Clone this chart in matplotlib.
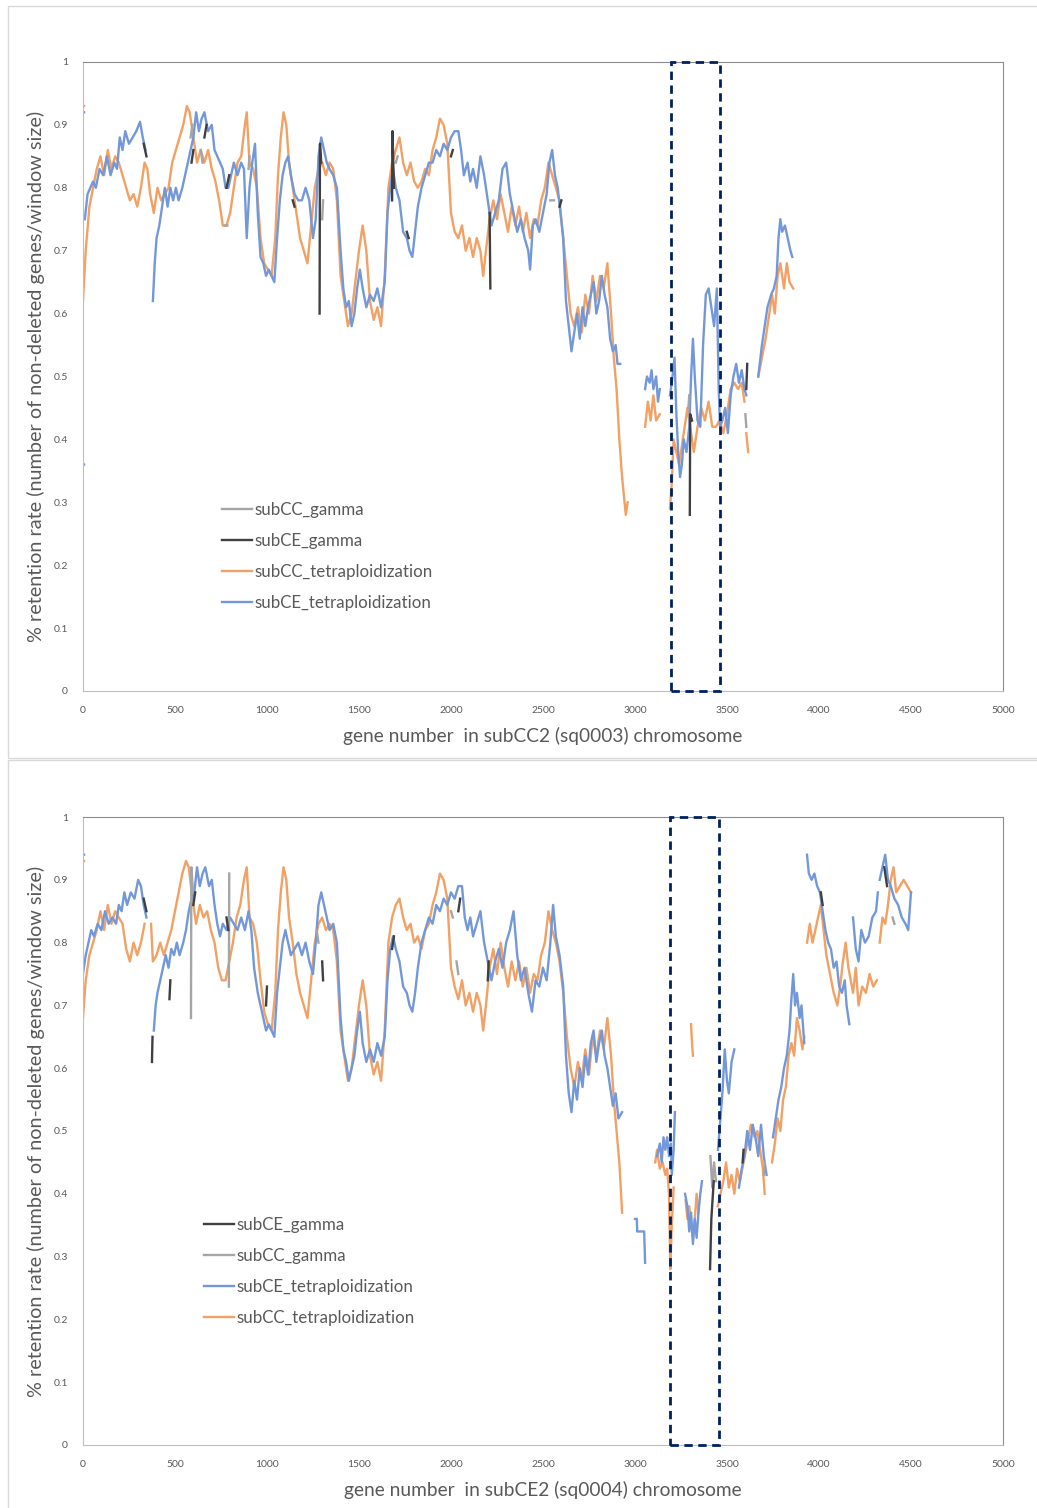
import numpy as np
import matplotlib
matplotlib.use("Agg")
import matplotlib.pyplot as plt
from matplotlib.patches import Rectangle

plt.rcParams['font.family'] = ['Lato', 'DejaVu Sans']

# ---- data: (gene number, retention rate), None = gap ----
# top panel: subCC2 (sq0003)
top_cc_tet = [(0, 0.93), (6, 0.93), None,
    (0, .62), (15, .70), (35, .77), (55, .80), (75, .83), (95, .85), (115, .82), (135, .86), (155, .83),
    (175, .85), (195, .84), (215, .82), (235, .80), (255, .78), (275, .79), (295, .77), (315, .80),
    (335, .84), (350, .83), (365, .79), (385, .76), (405, .80), (425, .78), (445, .79), (465, .80),
    (485, .84), (505, .86), (525, .88), (545, .90), (565, .93), (580, .92), (600, .88), (620, .84),
    (640, .86), (660, .84), (680, .86), (700, .83), (720, .81), (740, .78), (760, .74), (780, .74),
    (800, .76), (820, .80), (840, .84), (860, .85), (880, .90), (890, .92), (905, .84), (925, .83),
    (945, .80), (965, .72), (985, .68), (1005, .67), (1025, .66), (1045, .72), (1060, .82), (1075, .88),
    (1090, .92), (1105, .90), (1120, .84), (1140, .80), (1160, .76), (1180, .72), (1200, .70), (1220, .68),
    (1240, .74), (1260, .80), (1280, .83), (1300, .84), (1320, .82), (1340, .84), (1360, .83), (1380, .78),
    (1400, .66), (1420, .62), (1440, .58), (1460, .60), (1480, .65), (1500, .70), (1520, .74), (1540, .70),
    (1560, .62), (1580, .59), (1600, .61), (1620, .58), (1640, .66), (1660, .80), (1680, .84), (1700, .86),
    (1720, .88), (1740, .84), (1760, .82), (1780, .84), (1800, .81), (1820, .80), (1840, .81), (1860, .83),
    (1880, .82), (1900, .86), (1920, .88), (1940, .91), (1960, .90), (1980, .87), (2000, .76), (2020, .73),
    (2040, .72), (2060, .74), (2080, .70), (2100, .72), (2120, .69), (2140, .72), (2160, .70), (2175, .66),
    (2190, .70), (2210, .75), (2230, .78), (2250, .75), (2270, .79), (2290, .76), (2310, .73), (2330, .77),
    (2350, .74), (2370, .77), (2390, .73), (2410, .76), (2430, .72), (2450, .75), (2470, .74), (2490, .78),
    (2510, .80), (2530, .84), (2550, .82), (2570, .80), (2590, .78), (2610, .72), (2630, .66), (2650, .60),
    (2670, .58), (2690, .61), (2710, .57), (2730, .63), (2750, .60), (2770, .66), (2790, .62), (2810, .66),
    (2830, .64), (2850, .68), (2870, .60), (2885, .53), (2900, .48), (2915, .40), (2930, .34), (2940, .31),
    (2950, .28), (2960, .30), None,
    (3055, .42), (3070, .46), (3085, .43), (3100, .47), (3115, .43), (3135, .44), None,
    (3190, .29), (3200, .33), (3210, .40), (3225, .38), (3240, .36), (3255, .39), (3270, .42), (3285, .45),
    (3300, .42), (3320, .38), (3340, .42), (3360, .45), (3380, .43), (3400, .46), (3420, .42), (3440, .42),
    (3460, .43), (3480, .41), (3500, .44), (3520, .48), (3540, .49), (3560, .48), (3580, .49), (3595, .46),
    None, (3605, .41), (3615, .38), None,
    (3670, .50), (3690, .53), (3710, .56), (3730, .60), (3745, .63), (3760, .60), (3775, .66), (3790, .68),
    (3810, .64), (3825, .68), (3840, .65), (3860, .64)]

top_ce_tet = [(0, .92), (6, .92), None, (0, .36), (6, .36), None,
    (10, .75), (25, .79), (40, .80), (55, .81), (70, .80), (90, .83), (110, .82), (130, .85), (150, .82),
    (170, .84), (185, .83), (200, .88), (215, .86), (230, .89), (250, .87), (270, .88), (290, .89),
    (310, .905), (325, .88), (340, .86), None,
    (380, .62), (390, .68), (400, .72), (415, .74), (430, .77), (445, .80), (460, .77), (475, .80),
    (490, .78), (505, .80), (520, .78), (540, .80), (555, .82), (570, .84), (585, .86), (600, .88),
    (615, .92), (630, .89), (645, .91), (660, .92), (680, .89), (700, .90), (715, .86), (730, .85),
    (745, .84), (760, .83), (775, .80), (790, .80), (805, .82), (820, .84), (840, .82), (860, .84),
    (875, .83), (890, .72), (905, .80), (920, .84), (935, .87), (950, .76), (965, .69), (980, .68),
    (995, .66), (1010, .67), (1025, .66), (1040, .65), (1055, .72), (1070, .78), (1085, .82), (1100, .84),
    (1115, .85), (1130, .82), (1150, .79), (1170, .78), (1190, .78), (1210, .80), (1230, .78), (1250, .72),
    (1265, .75), (1280, .85), (1295, .88), (1310, .86), (1325, .84), (1340, .83), (1360, .82), (1380, .80),
    (1400, .70), (1415, .64), (1430, .61), (1445, .62), (1460, .58), (1475, .60), (1490, .64), (1505, .67),
    (1520, .64), (1540, .61), (1560, .63), (1580, .62), (1600, .64), (1620, .61), (1640, .65), (1655, .76),
    (1670, .80), (1685, .83), (1700, .80), (1720, .78), (1740, .73), (1760, .72), (1775, .70), (1790, .69),
    (1805, .73), (1820, .77), (1840, .80), (1860, .82), (1880, .84), (1900, .84), (1920, .86), (1940, .85),
    (1960, .87), (1980, .86), (2000, .88), (2020, .89), (2040, .89), (2055, .86), (2070, .82), (2090, .84),
    (2105, .81), (2120, .83), (2140, .80), (2160, .85), (2180, .82), (2200, .78), (2220, .74), (2240, .76),
    (2260, .78), (2280, .83), (2300, .84), (2320, .79), (2340, .76), (2360, .73), (2380, .75), (2400, .72),
    (2420, .70), (2430, .67), (2445, .74), (2460, .75), (2480, .73), (2500, .76), (2520, .79), (2535, .84),
    (2550, .86), (2565, .82), (2580, .80), (2595, .76), (2610, .72), (2625, .62), (2640, .58), (2655, .54),
    (2670, .57), (2685, .60), (2700, .56), (2715, .61), (2730, .58), (2745, .61), (2760, .63), (2775, .65),
    (2790, .60), (2805, .62), (2820, .66), (2835, .63), (2850, .61), (2865, .56), (2880, .54), (2895, .55),
    (2905, .52), (2920, .52), None,
    (3055, .48), (3065, .50), (3080, .49), (3090, .51), (3100, .48), (3115, .50), (3125, .46), (3135, .48), None,
    (3190, .47), (3200, .49), (3215, .53), (3225, .44), (3235, .38), (3245, .34), (3255, .36), (3265, .40),
    (3280, .38), (3295, .42), (3305, .50), (3315, .56), (3325, .50), (3340, .43), (3355, .42), (3370, .55),
    (3385, .63), (3400, .64), (3415, .61), (3430, .58), (3445, .64), (3455, .48), (3462, .42), (3475, .43),
    (3490, .45), (3505, .41), (3520, .47), (3535, .50), (3550, .52), (3565, .49), (3580, .51), (3595, .48),
    (3605, .47), None,
    (3670, .50), (3690, .55), (3705, .58), (3720, .61), (3740, .63), (3755, .64), (3770, .66), (3780, .72),
    (3790, .75), (3800, .73), (3815, .74), (3830, .72), (3845, .70), (3855, .69)]

top_ce_gam = [(330, .87), (345, .85), None, (590, .84), (600, .86), None, (660, .88), (672, .90), None,
    (780, .80), (795, .82), None, (1140, .78), (1150, .77), None, (1286, .60), (1288, .87), (1295, .84), None,
    (1680, .78), (1682, .89), (1690, .80), None, (1760, .73), (1770, .72), None, (2000, .85), (2010, .86), None,
    (2210, .76), (2214, .64), None, (2590, .77), (2600, .78), None,
    (3298, .28), (3300, .44), (3310, .43), None, (3605, .48), (3610, .52)]

top_cc_gam = [(585, .88), (595, .90), None, (640, .86), (650, .84), None, (770, .74), (785, .74), None,
    (900, .83), (905, .85), None, (1300, .75), (1305, .78), None, (1700, .84), (1710, .85), None,
    (2540, .78), (2560, .78), None, (3290, .45), (3295, .47), None, (3600, .44), (3605, .42)]

# bottom panel: subCE2 (sq0004)
bot_cc_tet = [(0, .93), (6, .93), None,
    (0, .68), (15, .74), (35, .78), (55, .80), (75, .82), (95, .85), (115, .82), (135, .86), (155, .83),
    (175, .85), (195, .84), (215, .83), (235, .79), (255, .77), (275, .80), (295, .78), (315, .80),
    (335, .83), None,
    (370, .83), (380, .77), (400, .78), (420, .80), (440, .78), (460, .80), (480, .82), (500, .85),
    (520, .88), (540, .91), (560, .93), (575, .92), (595, .87), (615, .83), (635, .86), (655, .84),
    (675, .85), (695, .82), (715, .80), (735, .76), (755, .74), (775, .74), (795, .77), (815, .80),
    (835, .84), (855, .86), (875, .90), (890, .92), (905, .84), (925, .83), (945, .80), (965, .74),
    (985, .69), (1005, .67), (1025, .66), (1045, .72), (1060, .82), (1075, .88), (1090, .92), (1105, .90),
    (1120, .84), (1140, .80), (1160, .75), (1180, .72), (1200, .70), (1220, .68), (1240, .74), (1260, .80),
    (1280, .83), (1300, .84), (1320, .82), (1340, .83), (1360, .82), (1380, .77), (1400, .66), (1420, .62),
    (1440, .58), (1460, .60), (1480, .65), (1500, .70), (1520, .74), (1540, .70), (1560, .62), (1580, .59),
    (1600, .61), (1620, .58), (1640, .66), (1660, .80), (1680, .84), (1700, .86), (1720, .87), (1740, .84),
    (1760, .82), (1780, .83), (1800, .80), (1820, .81), (1840, .79), (1860, .82), (1880, .83), (1900, .86),
    (1920, .88), (1940, .91), (1960, .90), (1980, .87), (2000, .76), (2020, .73), (2040, .71), (2060, .74),
    (2080, .70), (2100, .72), (2120, .69), (2140, .72), (2160, .70), (2175, .66), (2190, .70), (2210, .76),
    (2230, .79), (2250, .75), (2270, .80), (2290, .76), (2310, .73), (2330, .77), (2350, .74), (2370, .77),
    (2390, .73), (2410, .76), (2430, .72), (2450, .75), (2470, .74), (2490, .78), (2510, .80), (2530, .85),
    (2550, .82), (2570, .80), (2590, .77), (2610, .72), (2630, .65), (2650, .60), (2670, .57), (2690, .61),
    (2710, .58), (2730, .63), (2750, .59), (2770, .65), (2790, .62), (2810, .66), (2830, .63), (2850, .68),
    (2870, .62), (2885, .55), (2900, .50), (2915, .45), (2930, .37), None,
    (3110, .45), (3120, .47), (3135, .44), (3150, .45), (3165, .43), (3175, .44), (3185, .40), (3192, .28),
    (3200, .35), (3210, .41), None,
    (3275, .39), (3285, .36), (3295, .38), (3305, .35), (3315, .33), (3325, .36), (3335, .40), (3345, .37), None,
    (3305, .67), (3310, .64), (3315, .62), None,
    (3450, .38), (3465, .40), (3480, .42), (3495, .45), (3510, .41), (3525, .43), (3540, .40), (3555, .44),
    (3570, .42), (3590, .45), (3610, .48), (3630, .51), (3650, .49), (3665, .50), (3680, .47), (3695, .44),
    (3705, .40), None,
    (3745, .45), (3760, .48), (3775, .52), (3790, .50), (3805, .55), (3820, .57), (3835, .62), (3850, .64),
    (3865, .62), (3880, .68), (3895, .66), (3910, .63), (3920, .65), None,
    (3935, .80), (3950, .83), (3965, .80), (3980, .82), (3995, .84), (4010, .86), (4025, .82), (4040, .78),
    (4060, .75), (4080, .72), (4100, .70), (4115, .73), (4130, .77), (4145, .80), (4160, .76), (4185, .72),
    (4200, .76), (4215, .70), (4235, .73), (4255, .72), (4275, .75), (4295, .73), (4315, .74), None,
    (4330, .80), (4345, .84), (4360, .83), (4375, .86), (4390, .90), (4405, .92), (4420, .88), (4440, .89),
    (4460, .90), (4480, .89), (4500, .88)]

bot_ce_tet = [(0, .94), (6, .94), None,
    (0, .75), (15, .78), (30, .80), (45, .82), (60, .81), (80, .83), (100, .82), (120, .85), (140, .83),
    (160, .84), (180, .83), (195, .86), (210, .85), (225, .88), (240, .86), (260, .88), (280, .87),
    (300, .90), (315, .89), (330, .86), (345, .84), None,
    (385, .66), (395, .70), (405, .72), (420, .74), (435, .76), (450, .78), (465, .76), (480, .79),
    (495, .78), (510, .80), (525, .78), (545, .80), (560, .82), (575, .85), (590, .87), (605, .88),
    (620, .92), (635, .89), (650, .91), (665, .92), (685, .89), (700, .90), (715, .86), (730, .83),
    (745, .81), (760, .83), (780, .82), (800, .84), (820, .83), (840, .82), (860, .84), (880, .82),
    (900, .85), (915, .82), (930, .76), (950, .72), (965, .70), (980, .68), (995, .66), (1010, .67),
    (1025, .66), (1040, .65), (1055, .72), (1070, .76), (1085, .80), (1100, .82), (1115, .80), (1130, .78),
    (1150, .79), (1170, .80), (1190, .78), (1210, .80), (1230, .77), (1250, .75), (1265, .80), (1280, .86),
    (1295, .88), (1310, .86), (1325, .84), (1340, .82), (1360, .83), (1380, .80), (1400, .68), (1415, .63),
    (1430, .61), (1445, .58), (1460, .60), (1475, .62), (1490, .66), (1505, .69), (1520, .64), (1540, .61),
    (1560, .63), (1580, .61), (1600, .64), (1620, .62), (1640, .65), (1655, .74), (1670, .79), (1685, .81),
    (1700, .79), (1720, .77), (1740, .73), (1760, .72), (1775, .70), (1790, .69), (1805, .72), (1820, .76),
    (1840, .80), (1860, .82), (1880, .84), (1900, .83), (1920, .86), (1940, .85), (1960, .87), (1980, .86),
    (2000, .88), (2020, .87), (2040, .89), (2060, .89), (2075, .84), (2090, .82), (2105, .84), (2120, .81),
    (2140, .83), (2160, .85), (2180, .80), (2200, .77), (2220, .74), (2240, .77), (2260, .79), (2280, .76),
    (2300, .80), (2320, .82), (2340, .85), (2360, .78), (2380, .74), (2400, .76), (2420, .72), (2440, .69),
    (2460, .74), (2480, .73), (2500, .76), (2520, .74), (2540, .80), (2555, .86), (2570, .81), (2590, .78),
    (2610, .73), (2625, .62), (2640, .56), (2655, .53), (2670, .58), (2685, .55), (2700, .60), (2715, .57),
    (2730, .62), (2745, .59), (2760, .64), (2775, .66), (2790, .61), (2805, .64), (2820, .66), (2835, .62),
    (2850, .60), (2865, .57), (2880, .54), (2895, .56), (2910, .52), (2930, .53), None,
    (3000, .36), (3010, .36), (3012, .34), (3050, .34), (3055, .29), None,
    (3120, .46), (3135, .48), (3145, .45), (3155, .49), (3165, .47), (3175, .49), (3185, .46), (3195, .48),
    (3200, .43), (3210, .47), (3217, .53), None,
    (3272, .40), (3285, .38), (3295, .34), (3305, .37), (3315, .32), (3325, .36), (3335, .33), (3345, .37),
    (3355, .40), (3364, .42), None,
    (3451, .47), (3462, .51), (3475, .56), (3488, .63), (3500, .58), (3510, .56), (3525, .61), (3540, .63), None,
    (3565, .41), (3580, .44), (3595, .46), (3610, .50), (3625, .47), (3640, .51), (3655, .49), (3670, .46),
    (3685, .51), (3700, .46), (3715, .43), None,
    (3750, .49), (3765, .52), (3780, .55), (3795, .57), (3810, .60), (3825, .62), (3840, .66), (3850, .71),
    (3860, .75), (3870, .70), (3880, .72), (3895, .68), (3905, .70), (3915, .66), (3920, .64), None,
    (3935, .94), (3945, .91), (3960, .90), (3975, .91), (3990, .89), (4005, .88), (4020, .85), (4035, .82),
    (4050, .80), (4065, .79), (4080, .76), (4095, .77), (4110, .73), (4125, .72), (4140, .74), (4150, .70),
    (4165, .67), None,
    (4185, .84), (4200, .79), (4215, .77), (4230, .82), (4250, .80), (4270, .81), (4290, .84), (4310, .85),
    (4320, .88), None,
    (4330, .90), (4345, .92), (4360, .94), (4375, .90), (4390, .89), (4410, .87), (4430, .86), (4450, .84),
    (4470, .83), (4485, .82), (4495, .86), (4500, .88)]

bot_ce_gam = [(375, .61), (378, .65), None, (330, .87), (345, .85), None, (470, .71), (475, .74), None,
    (600, .86), (610, .88), None, (780, .84), (790, .82), None, (995, .70), (1000, .73), None,
    (1300, .77), (1305, .74), None, (1680, .79), (1690, .81), None, (2040, .85), (2050, .87), None,
    (2200, .74), (2205, .77), None, (3408, .28), (3415, .36), (3428, .42), None, (3585, .45), (3590, .47), None,
    (4010, .88), (4020, .86), None, (4355, .92), (4370, .89)]

bot_cc_gam = [(587, .68), (589, .92), (598, .88), None, (793, .73), (795, .91), None, (1270, .82), (1280, .80), None,
    (2000, .85), (2010, .84), None, (2030, .77), (2040, .75), None,
    (3410, .46), (3420, .41), (3430, .45), (3440, .42), None, (3700, .43), (3705, .45), None,
    (4400, .84), (4410, .83)]

# dashed highlight boxes (gene range)
top_box = (3196, 3462)
bot_box = (3190, 3457)

xticks = [0, 500, 1000, 1500, 2000, 2500, 3000, 3500, 4000, 4500, 5000]
yticks = [0, 0.1, 0.2, 0.3, 0.4, 0.5, 0.6, 0.7, 0.8, 0.9, 1]

c_orange = '#f2a063'
c_blue = '#7398da'
c_dark = '#404040'
c_grey = '#a5a5a5'
txt = '#595959'


def split(pts):
    x = np.array([np.nan if p is None else p[0] for p in pts], dtype=float)
    y = np.array([np.nan if p is None else p[1] for p in pts], dtype=float)
    return x, y


def draw(ax, cc_tet, ce_tet, cc_gam, ce_gam, box, xlabel, order, leg_xy):
    h = {}
    h['subCC_tetraploidization'], = ax.plot(*split(cc_tet), color=c_orange, lw=1.7)
    h['subCE_tetraploidization'], = ax.plot(*split(ce_tet), color=c_blue, lw=1.7)
    h['subCC_gamma'], = ax.plot(*split(cc_gam), color=c_grey, lw=1.7)
    h['subCE_gamma'], = ax.plot(*split(ce_gam), color=c_dark, lw=1.7)
    ax.add_patch(Rectangle((box[0], 0), box[1] - box[0], 1, fill=False, ec='#002060',
                           lw=2, ls=(0, (3, 2)), clip_on=False, zorder=5))
    ax.set_xlim(0, 5000)
    ax.set_ylim(0, 1)
    ax.set_xticks(xticks)
    ax.set_yticks(yticks)
    ax.set_yticklabels(['0', '0.1', '0.2', '0.3', '0.4', '0.5', '0.6', '0.7', '0.8', '0.9', '1'])
    ax.tick_params(length=0, labelsize=7.5, colors=txt, pad=11)
    for s in ['left', 'bottom']:
        ax.spines[s].set_color('#bfbfbf')
    for s in ['top', 'right']:
        ax.spines[s].set_color('#8c8c8c')
    ax.set_xlabel(xlabel, fontsize=13.8, color=txt)
    ax.xaxis.set_label_coords(0.5, -0.057)
    ax.set_ylabel('% retention rate (number of non-deleted genes/window size)', fontsize=14.3, color=txt)
    ax.yaxis.set_label_coords(-0.041, 0.5)
    ax.legend([h[k] for k in order], order, loc='center left', bbox_to_anchor=leg_xy,
              frameon=False, fontsize=12.2, handlelength=1.76, handletextpad=0.15,
              labelspacing=0.88, borderpad=0, borderaxespad=0, labelcolor=txt)


fig = plt.figure(figsize=(10.37, 15.08), dpi=100)

# panel frames
fig.patches.append(Rectangle((0.0077, 0.4973), 1.0, 0.4987, transform=fig.transFigure,
                             fill=False, ec='#d9d9d9', lw=1))
fig.patches.append(Rectangle((0.0077, -0.01), 1.0, 0.5057, transform=fig.transFigure,
                             fill=False, ec='#d9d9d9', lw=1))

ax1 = fig.add_axes([0.0800, 0.5418, 0.8872, 0.4171])
draw(ax1, top_cc_tet, top_ce_tet, top_cc_gam, top_ce_gam, top_box,
     'gene number  in subCC2 (sq0003) chromosome',
     ['subCC_gamma', 'subCE_gamma', 'subCC_tetraploidization', 'subCE_tetraploidization'],
     (0.151, 0.214))

ax2 = fig.add_axes([0.0800, 0.0418, 0.8872, 0.4164])
draw(ax2, bot_cc_tet, bot_ce_tet, bot_cc_gam, bot_ce_gam, bot_box,
     'gene number  in subCE2 (sq0004) chromosome',
     ['subCE_gamma', 'subCC_gamma', 'subCE_tetraploidization', 'subCC_tetraploidization'],
     (0.1315, 0.276))

plt.savefig('out.png', dpi=100)
